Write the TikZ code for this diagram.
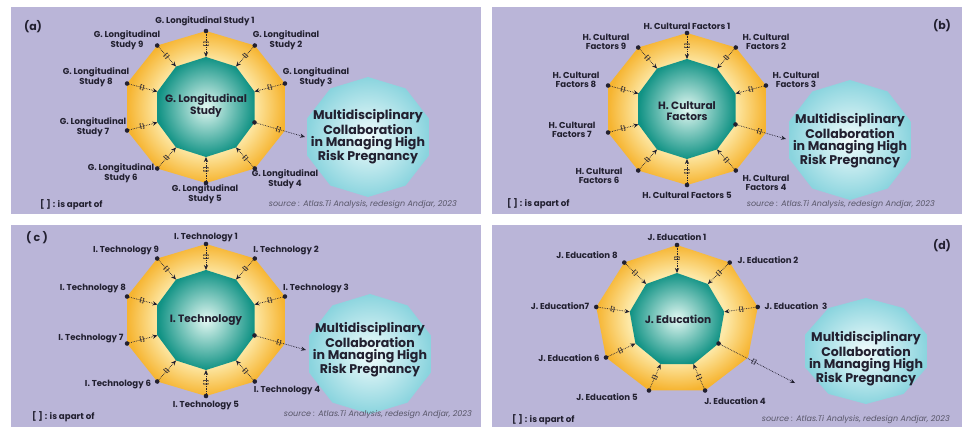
\documentclass[tikz,border=0pt]{standalone}
\usepackage{fontspec}
\setmainfont{Poppins}
\usetikzlibrary{arrows.meta}

\definecolor{panelbg}{RGB}{186,181,216}
\definecolor{ink}{RGB}{34,32,48}
\definecolor{srcink}{RGB}{88,86,104}
\definecolor{ringlight}{RGB}{253,233,168}
\definecolor{ringdeep}{RGB}{246,180,48}
\definecolor{coreglow}{RGB}{226,248,242}
\definecolor{coreedge}{RGB}{16,146,132}
\definecolor{goalglow}{RGB}{242,252,252}
\definecolor{goaledge}{RGB}{138,212,222}

% rim of the ring: pale near the core, deep amber at the outside
\pgfdeclareradialshading{ringshade}{\pgfpoint{0bp}{0bp}}{%
  color(0bp)=(ringlight); color(15bp)=(ringlight);
  color(25bp)=(ringdeep); color(50bp)=(ringdeep)}

\tikzset{
  panelfill/.style={fill=panelbg},
  ring/.style={shading=ringshade},
  core/.style={shading=radial, inner color=coreglow, outer color=coreedge},
  goalshape/.style={shading=radial, inner color=goalglow, outer color=goaledge},
  partof/.style={draw=ink, densely dotted, line width=0.7pt,
    -{Stealth[length=5pt,width=4.2pt]}},
  enddot/.style={circle, fill=ink, inner sep=0pt, minimum size=4.6pt},
  relmark/.style={pos=0.45, sloped, text=ink, inner sep=0.5pt,
    font=\bfseries\fontsize{4.8}{4.8}\selectfont},
  codelabel/.style={text=ink, align=center, inner sep=0pt,
    font=\bfseries\fontsize{8.6}{8.4}\selectfont},
  coretext/.style={text=ink, align=center, inner sep=0pt,
    font=\bfseries\fontsize{10.6}{10.4}\selectfont},
  goaltext/.style={text=ink, align=center, inner sep=0pt,
    font=\bfseries\fontsize{12.6}{11.8}\selectfont},
  panelname/.style={text=ink, inner sep=0pt,
    font=\bfseries\fontsize{11}{12}\selectfont},
  legend/.style={text=ink, anchor=west, inner sep=0pt,
    font=\bfseries\fontsize{8.7}{9}\selectfont},
  source/.style={text=srcink, anchor=east, inner sep=0pt,
    font=\itshape\fontsize{8}{8.5}\selectfont},
}

% ring with N corners (numbered clockwise from the top): outer rim and inner core
% #1 prefix, #2 #3 centre, #4 corners, #5 #6 rim radii, #7 #8 core radii
\newcommand\buildring[8]{%
  \foreach \k in {1,...,#4}{
    \pgfmathsetmacro\ang{(\k-1)*360/#4-90}
    \coordinate (#1-o\k) at ({#2+#5*cos(\ang)},{#3+#6*sin(\ang)});
    \coordinate (#1-i\k) at ({#2+#7*cos(\ang)},{#3+#8*sin(\ang)});
  }
  \shade[ring] (#1-o1) \foreach \k in {2,...,#4}{ -- (#1-o\k)} -- cycle;
  \shade[core] (#1-i1) \foreach \k in {2,...,#4}{ -- (#1-i\k)} -- cycle;
}

% ten-cornered badge for the shared outcome
\newcommand\buildgoal[5]{%
  \foreach \k in {1,...,10}{
    \pgfmathsetmacro\ang{(\k-1)*36-90}
    \coordinate (#1-g\k) at ({#2+#4*cos(\ang)},{#3+#5*sin(\ang)});
  }
  \shade[goalshape] (#1-g1) \foreach \k in {2,...,10}{ -- (#1-g\k)} -- cycle;
}

% code at rim corner #2 is a part of the core
\newcommand\feed[2]{%
  \node[enddot] (#1-d#2) at (#1-o#2) {};
  \draw[partof] (#1-d#2) -- (#1-i#2) node[relmark] {[]};
}

% core is a part of the outcome
\newcommand\outflow[3]{%
  \node[enddot] (#1-src) at (#1-i#2) {};
  \coordinate (#1-tip) at (#3);
  \draw[partof] (#1-src) -- (#1-tip) node[relmark] {[]};
}

\begin{document}
\begin{tikzpicture}[x=1pt, y=-1pt]
\useasboundingbox (0,0) rectangle (963,432);
\fill[white] (0,0) rectangle (963,432);

% ---------------- (a) Longitudinal study ----------------
\fill[panelfill] (11,7) rectangle (481,214);
\buildring{a}{206}{107}{10}{83}{76}{51}{50}
\buildgoal{a}{368}{137}{64}{60}
\foreach \k in {1,2,3,5,6,7,8,9,10}{\feed{a}{\k}}
\outflow{a}{4}{305,137}
\node[coretext] (a-core) at (206,106) {G. Longitudinal\\Study};
\node[goaltext] (a-goal) at (368,137) {Multidisciplinary\\Collaboration\\in Managing High\\Risk Pregnancy};
\node[codelabel] (a-l1) at (205,21) {G. Longitudinal Study 1};
\node[codelabel] (a-l2) at (286,40) {G. Longitudinal\\Study 2};
\node[codelabel] (a-l3) at (316,77) {G. Longitudinal\\Study 3};
\node[codelabel] (a-l4) at (285,179) {G. Longitudinal\\Study 4};
\node[codelabel] (a-l5) at (205,194) {G. Longitudinal\\Study 5};
\node[codelabel] (a-l6) at (121,173) {G. Longitudinal\\Study 6};
\node[codelabel] (a-l7) at (93,127) {G. Longitudinal\\Study 7};
\node[codelabel] (a-l8) at (96,77) {G. Longitudinal\\Study 8};
\node[codelabel] (a-l9) at (127,40) {G. Longitudinal\\Study 9};
\node[panelname] (a-name) at (33,27) {(a)};
\node[legend] (a-legend) at (40,205) {[ ] : is apart of};
\node[source] (a-source) at (457,205) {source : Atlas.Ti Analysis, redesign Andjar, 2023};

% ---------------- (b) Cultural factors ----------------
\fill[panelfill] (492,7) rectangle (962,214);
\buildring{b}{687}{109}{10}{83}{76}{51}{50}
\buildgoal{b}{850}{140}{64}{60}
\foreach \k in {1,2,3,5,6,7,8,9,10}{\feed{b}{\k}}
\outflow{b}{4}{786,139}
\node[coretext] (b-core) at (687,111) {H. Cultural\\Factors};
\node[goaltext] (b-goal) at (850,141) {Multidisciplinary\\Collaboration\\in Managing High\\Risk Pregnancy};
\node[codelabel] (b-l1) at (687,26) {H. Cultural Factors 1};
\node[codelabel] (b-l2) at (766,42) {H. Cultural\\Factors 2};
\node[codelabel] (b-l3) at (796,80) {H. Cultural\\Factors 3};
\node[codelabel] (b-l4) at (766,183) {H. Cultural\\Factors 4};
\node[codelabel] (b-l5) at (687,195) {H. Cultural Factors 5};
\node[codelabel] (b-l6) at (599,176) {H. Cultural\\Factors 6};
\node[codelabel] (b-l7) at (572,130) {H. Cultural\\Factors 7};
\node[codelabel] (b-l8) at (576,80) {H. Cultural\\Factors 8};
\node[codelabel] (b-l9) at (606,42) {H. Cultural\\Factors 9};
\node[panelname] (b-name) at (942,26) {(b)};
\node[legend] (b-legend) at (507,204) {[ ] : is apart of};
\node[source] (b-source) at (935,205) {source : Atlas.Ti Analysis, redesign Andjar, 2023};

% ---------------- (c) Technology ----------------
\fill[panelfill] (11,225) rectangle (481,427);
\buildring{c}{206}{320}{10}{83}{76}{51}{50}
\buildgoal{c}{370}{354}{64}{60}
\foreach \k in {1,2,3,5,6,7,8,9,10}{\feed{c}{\k}}
\outflow{c}{4}{306,350}
\node[coretext] (c-core) at (206,320) {I. Technology};
\node[goaltext] (c-goal) at (370,350) {Multidisciplinary\\Collaboration\\in Managing High\\Risk Pregnancy};
\node[codelabel] (c-l1) at (206,237) {I. Technology 1};
\node[codelabel] (c-l2) at (286,250) {I. Technology 2};
\node[codelabel] (c-l3) at (316,288) {I. Technology 3};
\node[codelabel] (c-l4) at (287,390) {I. Technology 4};
\node[codelabel] (c-l5) at (206,405) {I. Technology 5};
\node[codelabel] (c-l6) at (118,384) {I. Technology 6};
\node[codelabel] (c-l7) at (91,338) {I. Technology 7};
\node[codelabel] (c-l8) at (93,288) {I. Technology 8};
\node[codelabel] (c-l9) at (126,250) {I. Technology 9};
\node[panelname] (c-name) at (37,238) {( c )};
\node[legend] (c-legend) at (32,417) {[ ] : is apart of};
\node[source] (c-source) at (472,415) {source : Atlas.Ti Analysis, redesign Andjar, 2023};

% ---------------- (d) Education ----------------
\fill[panelfill] (492,225) rectangle (962,427);
\buildring{d}{677}{320}{9}{82}{75}{48}{47}
\buildgoal{d}{866}{351}{64}{53}
\foreach \k in {1,2,3,5,6,7,8,9}{\feed{d}{\k}}
\outflow{d}{4}{795,383}
\node[coretext] (d-core) at (678,319) {J. Education};
\node[goaltext] (d-goal) at (866,359) {Multidisciplinary\\Collaboration\\in Managing High\\Risk Pregnancy};
\node[codelabel] (d-l1) at (677,237) {J. Education 1};
\node[codelabel] (d-l2) at (768,260) {J. Education 2};
\node[codelabel] (d-l3) at (796,306) {J. Education\hspace{2pt} 3};
\node[codelabel] (d-l4) at (735,401) {J. Education 4};
\node[codelabel] (d-l5) at (607,397) {J. Education 5};
\node[codelabel] (d-l6) at (569,358) {J. Education 6};
\node[codelabel] (d-l7) at (560,306) {J. Education7};
\node[codelabel] (d-l8) at (587,255) {J. Education 8};
\node[panelname] (d-name) at (942,246) {(d)};
\node[legend] (d-legend) at (512,420) {[ ] : is apart of};
\node[source] (d-source) at (950,420) {source : Atlas.Ti Analysis, redesign Andjar, 2023};
\end{tikzpicture}
\end{document}
